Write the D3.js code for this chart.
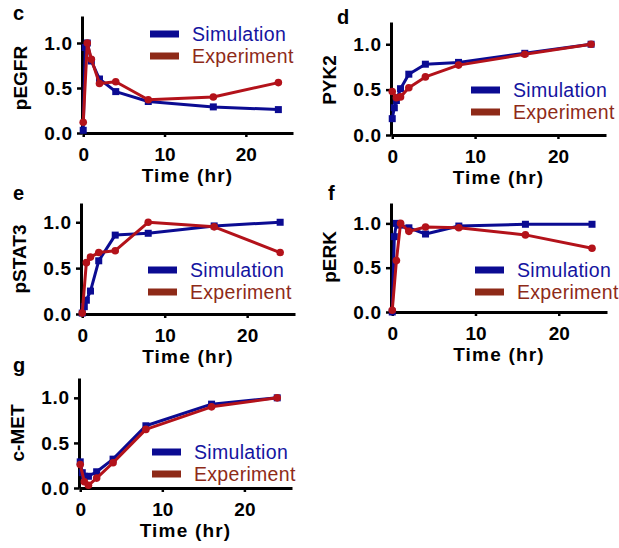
<!DOCTYPE html>
<html>
<head>
<meta charset="utf-8">
<script src="https://cdn.jsdelivr.net/npm/d3@7"></script>
<style>
    body { margin: 0; background: #fff; }
    svg { display: block; font-family: "Liberation Sans", Arial, sans-serif; }
</style>
</head>
<body>
<div id="chart"></div>
<script>
// time points (hr)
const simTimes = [0, 0.25, 0.5, 1, 2, 4, 8, 16, 24];
const expTimes = [0, 0.5, 1, 2, 4, 8, 16, 24];

const pegfrSim = [0.03, 0.95, 1.0, 0.8, 0.6, 0.46, 0.35, 0.29, 0.26];
const pegfrExp = [0.12, 1.0, 0.82, 0.55, 0.57, 0.37, 0.40, 0.56];

const pyk2Sim = [0.18, 0.30, 0.38, 0.51, 0.67, 0.78, 0.80, 0.90, 1.0];
const pyk2Exp = [0.48, 0.41, 0.42, 0.52, 0.64, 0.77, 0.89, 1.0];

const pstat3Sim = [0.01, 0.08, 0.15, 0.25, 0.58, 0.86, 0.88, 0.96, 1.0];
const pstat3Exp = [0.01, 0.56, 0.62, 0.67, 0.69, 1.0, 0.95, 0.67];

const perkSim = [0.0, 0.85, 1.0, 0.98, 0.95, 0.88, 0.97, 0.99, 0.99];
const perkExp = [0.02, 0.58, 1.0, 0.91, 0.96, 0.95, 0.87, 0.72];

const cmetSim = [0.29, 0.17, 0.13, 0.13, 0.18, 0.32, 0.69, 0.93, 1.0];
const cmetExp = [0.26, 0.07, 0.03, 0.11, 0.28, 0.65, 0.90, 1.0];

const panelLetters = ['c', 'd', 'e', 'f', 'g'];
const yTitles = ['pEGFR', 'PYK2', 'pSTAT3', 'pERK', 'c-MET'];
const seriesNames = ['Simulation', 'Experiment'];
const yTicks = [0, 0.5, 1.0];
const xTicks = [0, 10, 20];
const xTitle = 'Time (hr)';

const SIM_COLOR = '#0b0b92';
const EXP_COLOR = '#b3121a';
const SIM_TEXT = '#1414a0';
const EXP_TEXT = '#8e2a18';

// plot box per panel: axis left/right, top/bottom, y max, letter pos, legend pos
const layout = [
    { left: 82, right: 293, top: 16, bottom: 133, yMax: 1.3, letter: [13, 20], legend: [150, 34] },
    { left: 391, right: 606, top: 22, bottom: 135, yMax: 1.245, letter: [337, 24], legend: [471, 90] },
    { left: 81, right: 295, top: 203, bottom: 314, yMax: 1.21, letter: [13, 200], legend: [148, 270] },
    { left: 391, right: 607, top: 203, bottom: 312, yMax: 1.23, letter: [328, 200], legend: [475, 270] },
    { left: 79, right: 292, top: 378, bottom: 488, yMax: 1.22, letter: [13, 372], legend: [152, 452] }
];

const panels = [
    [pegfrSim, pegfrExp],
    [pyk2Sim, pyk2Exp],
    [pstat3Sim, pstat3Exp],
    [perkSim, perkExp],
    [cmetSim, cmetExp]
];

const svg = d3.select('#chart').append('svg')
    .attr('width', 619)
    .attr('height', 548);

function drawPanel(i) {
    const box = layout[i];
    const [sim, exp] = panels[i];
    const g = svg.append('g');

    const x = d3.scaleLinear().domain([-0.15, 25.8]).range([box.left, box.right]);
    const y = d3.scaleLinear().domain([0, box.yMax]).range([box.bottom, box.top]);

    // axes
    const yAxis = g.append('g')
        .attr('transform', `translate(${box.left},0)`)
        .call(d3.axisLeft(y).tickValues(yTicks).tickFormat(d3.format('.1f'))
            .tickSizeInner(5).tickSizeOuter(0).tickPadding(4));
    const xAxis = g.append('g')
        .attr('transform', `translate(0,${box.bottom})`)
        .call(d3.axisBottom(x).tickValues(xTicks)
            .tickSizeInner(4).tickSizeOuter(0).tickPadding(11));

    [yAxis, xAxis].forEach(ax => {
        ax.select('.domain').attr('stroke', '#000').attr('stroke-width', 3);
        ax.selectAll('.tick line').attr('stroke', '#000').attr('stroke-width', 2.5);
        ax.selectAll('.tick text')
            .attr('fill', '#000')
            .style('font-size', '19px')
            .style('font-weight', 'bold')
            .style('font-family', '"Liberation Sans", Arial, sans-serif');
    });
    yAxis.selectAll('.tick text').style('letter-spacing', '0.8px');

    // titles
    g.append('text')
        .attr('transform', `translate(${box.left - 55},${box.bottom - 55}) rotate(-90)`)
        .attr('text-anchor', 'middle')
        .style('font-size', '19px')
        .style('font-weight', 'bold')
        .text(yTitles[i]);

    g.append('text')
        .attr('x', (box.left + box.right) / 2)
        .attr('y', box.bottom + 49)
        .attr('text-anchor', 'middle')
        .style('font-size', '19px')
        .style('font-weight', 'bold')
        .style('letter-spacing', '1.2px')
        .text(xTitle);

    g.append('text')
        .attr('x', box.letter[0])
        .attr('y', box.letter[1])
        .style('font-size', '20px')
        .style('font-weight', 'bold')
        .text(panelLetters[i]);

    // series
    const simData = simTimes.map((t, k) => ({ t, v: sim[k] }));
    const expData = expTimes.map((t, k) => ({ t, v: exp[k] }));
    const line = d3.line().x(d => x(d.t)).y(d => y(d.v));

    g.append('path')
        .datum(simData)
        .attr('fill', 'none')
        .attr('stroke', SIM_COLOR)
        .attr('stroke-width', 3)
        .attr('stroke-linejoin', 'round')
        .attr('d', line);

    g.selectAll('.sim-dot')
        .data(simData)
        .enter()
        .append('rect')
        .attr('class', 'sim-dot')
        .attr('x', d => x(d.t) - 3.5)
        .attr('y', d => y(d.v) - 3.5)
        .attr('width', 7)
        .attr('height', 7)
        .attr('fill', SIM_COLOR);

    g.append('path')
        .datum(expData)
        .attr('fill', 'none')
        .attr('stroke', EXP_COLOR)
        .attr('stroke-width', 3)
        .attr('stroke-linejoin', 'round')
        .attr('d', line);

    g.selectAll('.exp-dot')
        .data(expData)
        .enter()
        .append('circle')
        .attr('class', 'exp-dot')
        .attr('cx', d => x(d.t))
        .attr('cy', d => y(d.v))
        .attr('r', 3.8)
        .attr('fill', EXP_COLOR);

    // legend
    const legend = g.selectAll('.legend')
        .data([
            { name: seriesNames[0], color: SIM_COLOR, text: SIM_TEXT },
            { name: seriesNames[1], color: EXP_TEXT, text: EXP_TEXT }
        ])
        .enter()
        .append('g')
        .attr('transform', (d, k) => `translate(${box.legend[0]},${box.legend[1] + k * 22})`);

    legend.append('rect')
        .attr('x', 0)
        .attr('y', -3.5)
        .attr('width', 29)
        .attr('height', 7)
        .attr('fill', d => d.color);

    legend.append('text')
        .attr('x', 42)
        .attr('y', 7)
        .attr('fill', d => d.text)
        .style('font-size', '19.5px')
        .style('letter-spacing', '0.3px')
        .text(d => d.name);
}

panels.forEach((p, i) => drawPanel(i));
</script>
</body>
</html>
